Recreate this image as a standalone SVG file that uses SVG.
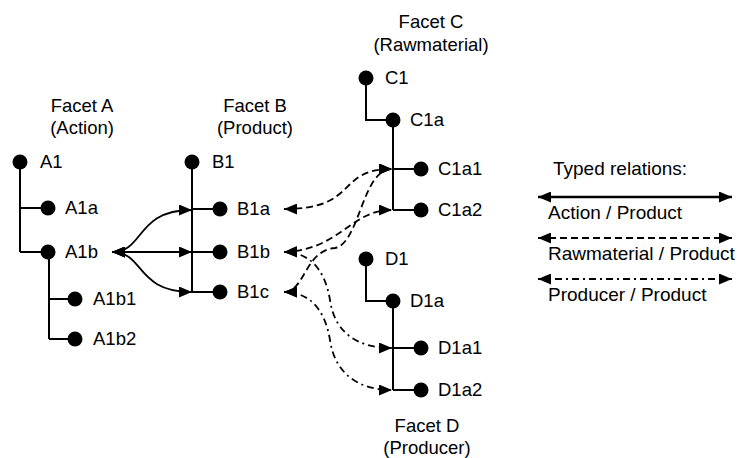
<svg xmlns="http://www.w3.org/2000/svg" width="742" height="458" viewBox="0 0 742 458">
<defs>
<style>
text{font-family:"Liberation Sans",Arial,sans-serif;fill:#000}
.lbl{font-size:18.5px}
.fac{font-size:18.5px;text-anchor:middle}
.leg{font-size:19px}
.dot{fill:#000}
.tree{fill:none;stroke:#000;stroke-width:2}
.rel{fill:none;stroke:#000;stroke-width:1.8}
.act{marker-start:url(#ah);marker-end:url(#ah)}
.dash{stroke-dasharray:7 4}
.dd{stroke-dasharray:7 4 2 4}
</style>
<marker id="ah" viewBox="0 0 13 11" refX="13" refY="5.5" markerWidth="13" markerHeight="11" markerUnits="userSpaceOnUse" orient="auto-start-reverse">
<path d="M0,0 L13,5.5 L0,11 z" fill="#000"/>
</marker>
</defs>
<rect width="742" height="458" fill="#fff"/>

<g id="facet-labels">
<g id="facetA"><text class="fac" x="82" y="112">Facet A</text><text class="fac" x="82" y="134">(Action)</text></g>
<g id="facetB"><text class="fac" x="255" y="112">Facet B</text><text class="fac" x="255" y="134">(Product)</text></g>
<g id="facetC"><text class="fac" x="431" y="28">Facet C</text><text class="fac" x="431" y="51">(Rawmaterial)</text></g>
<g id="facetD"><text class="fac" x="427" y="432">Facet D</text><text class="fac" x="427" y="454">(Producer)</text></g>
</g>

<g id="connectors">
<!-- tree edges -->
<path class="tree" d="M20,162 V252 M20,208 H48 M20,252 H48"/>
<path class="tree" d="M49,252 V339 M49,299 H75 M49,339 H75"/>
<path class="tree" d="M192,162 V292 M192,209 H220 M192,252 H220 M192,292 H220"/>
<path class="tree" d="M366,78 V120 H393 M393,120 V210 M393,169 H421 M393,210 H421"/>
<path class="tree" d="M366,259 V301 H393 M393,301 V390 M393,348 H421 M393,390 H421"/>
<!-- action / product -->
<path class="rel act" d="M112,252 C145,252 135,210 192,210"/>
<path class="rel act" d="M112,252 L192,252"/>
<path class="rel act" d="M112,252 C145,252 135,292 192,292"/>
<!-- rawmaterial / product -->
<path class="rel act dash" d="M284,209 C360,209 335,169 392,169"/>
<path class="rel act dash" d="M284,252 C340,250 350,210 392,210"/>
<path class="rel act dash" d="M284,292 C305,292 305,250 335,248 C360,243 362,169 392,169"/>
<!-- producer / product -->
<path class="rel act dd" d="M284,252 C310,252 325,270 330,300 C335,335 360,348 392,348"/>
<path class="rel act dd" d="M284,292 C310,292 325,310 330,340 C335,375 360,390 392,390"/>
</g>

<g id="A1"><circle class="dot" cx="20" cy="162" r="7.5"/><text class="lbl" x="40" y="168">A1</text></g>
<g id="A1a"><circle class="dot" cx="48" cy="208" r="7.5"/><text class="lbl" x="65" y="214">A1a</text></g>
<g id="A1b"><circle class="dot" cx="48" cy="252" r="7.5"/><text class="lbl" x="65" y="258">A1b</text></g>
<g id="A1b1"><circle class="dot" cx="75" cy="299" r="7.5"/><text class="lbl" x="93" y="305">A1b1</text></g>
<g id="A1b2"><circle class="dot" cx="75" cy="339" r="7.5"/><text class="lbl" x="93" y="345">A1b2</text></g>

<g id="B1"><circle class="dot" cx="192" cy="162" r="7.5"/><text class="lbl" x="212" y="168">B1</text></g>
<g id="B1a"><circle class="dot" cx="220" cy="209" r="7.5"/><text class="lbl" x="237" y="215">B1a</text></g>
<g id="B1b"><circle class="dot" cx="220" cy="252" r="7.5"/><text class="lbl" x="237" y="258">B1b</text></g>
<g id="B1c"><circle class="dot" cx="220" cy="292" r="7.5"/><text class="lbl" x="237" y="298">B1c</text></g>

<g id="C1"><circle class="dot" cx="366" cy="78" r="7.5"/><text class="lbl" x="385" y="84">C1</text></g>
<g id="C1a"><circle class="dot" cx="393" cy="120" r="7.5"/><text class="lbl" x="410" y="126">C1a</text></g>
<g id="C1a1"><circle class="dot" cx="421" cy="169" r="7.5"/><text class="lbl" x="438" y="175">C1a1</text></g>
<g id="C1a2"><circle class="dot" cx="421" cy="210" r="7.5"/><text class="lbl" x="438" y="216">C1a2</text></g>

<g id="D1"><circle class="dot" cx="366" cy="259" r="7.5"/><text class="lbl" x="385" y="265">D1</text></g>
<g id="D1a"><circle class="dot" cx="393" cy="301" r="7.5"/><text class="lbl" x="410" y="307">D1a</text></g>
<g id="D1a1"><circle class="dot" cx="421" cy="348" r="7.5"/><text class="lbl" x="438" y="354">D1a1</text></g>
<g id="D1a2"><circle class="dot" cx="421" cy="390" r="7.5"/><text class="lbl" x="438" y="396">D1a2</text></g>

<g id="legend">
<text class="leg" x="553" y="175">Typed relations:</text>
<path class="rel act" style="stroke-width:2.5" d="M538,197 H732"/>
<text class="leg" x="548" y="219">Action / Product</text>
<path class="rel act dash" d="M538,238 H732"/>
<text class="leg" x="548" y="260">Rawmaterial / Product</text>
<path class="rel act dd" d="M538,279 H732"/>
<text class="leg" x="548" y="301">Producer / Product</text>
</g>
</svg>
